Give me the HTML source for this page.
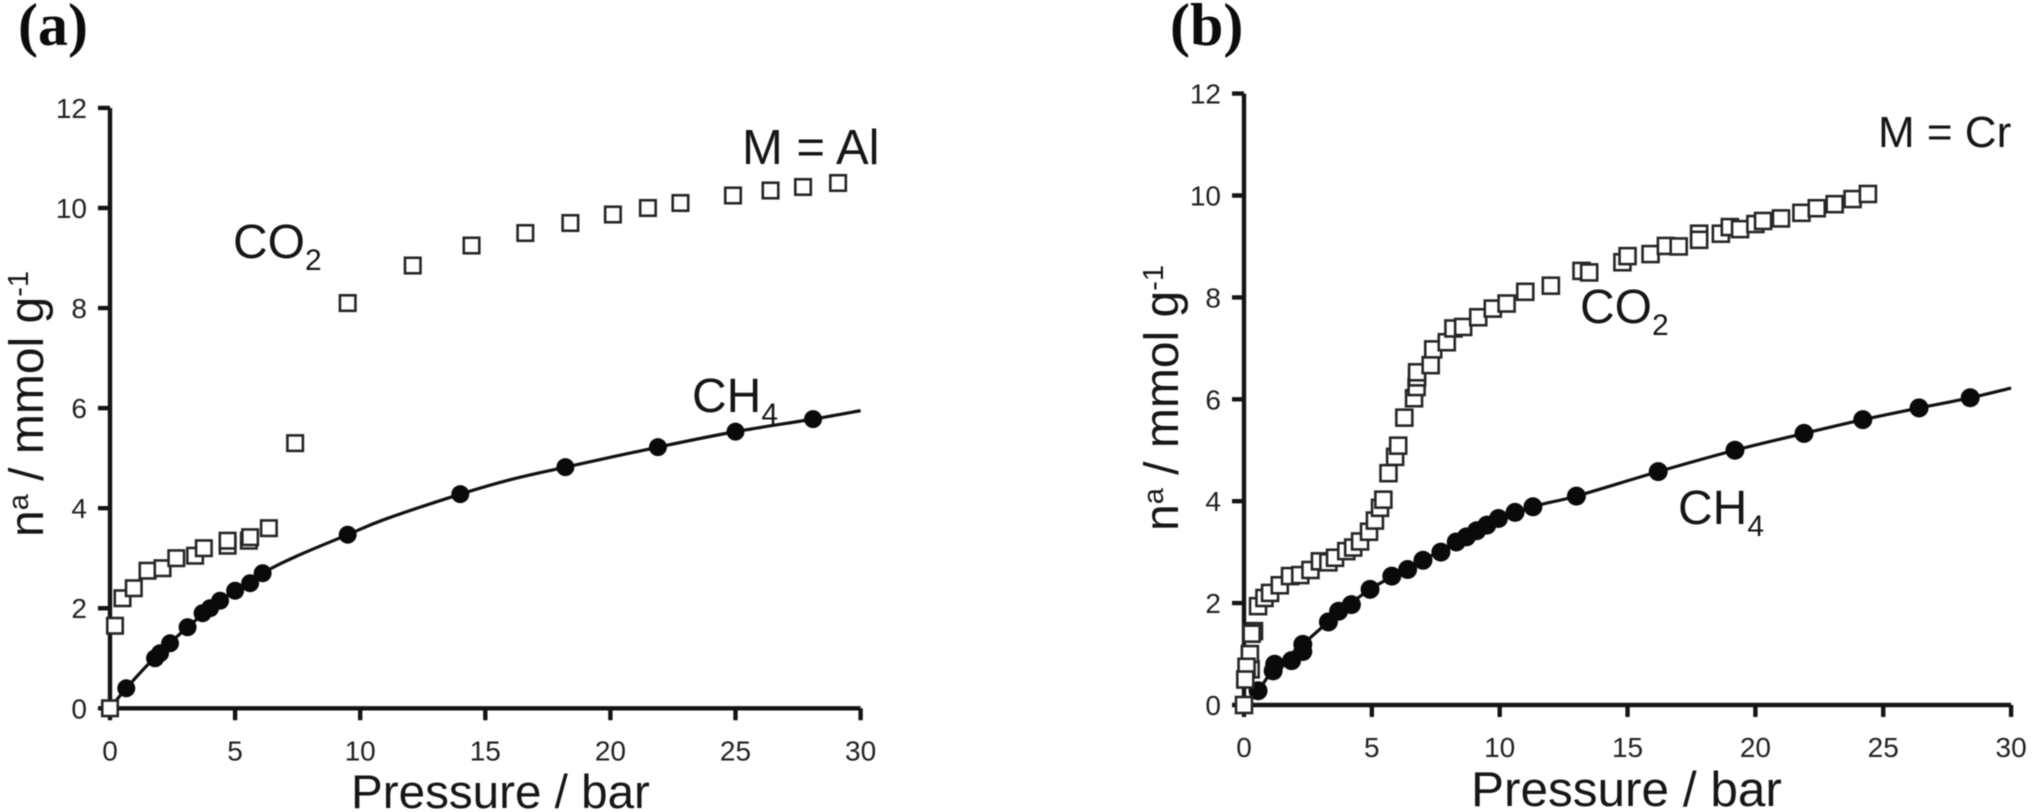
<!DOCTYPE html>
<html>
<head>
<meta charset="utf-8">
<title>CO2 and CH4 adsorption isotherms</title>
<style>
html,body{margin:0;padding:0;background:#fff;width:2042px;height:812px;overflow:hidden}
svg{display:block;filter:blur(0.6px)}
text{font-family:"Liberation Sans",sans-serif;fill:#161616}
.panel{font-family:"Liberation Serif",serif;font-weight:bold;font-size:60px;fill:#0c0c0c}
.big{font-size:48px}
.sub{font-size:30px}
.tick{font-size:28px;fill:#222}
</style>
</head>
<body>
<svg id="chart" width="2042" height="812" viewBox="0 0 2042 812" xmlns="http://www.w3.org/2000/svg">
  <text class="panel" x="18" y="45">(a)</text>
  <text class="panel" x="1170" y="45">(b)</text>

  <text class="big" x="742" y="164" style="font-size:49px">M = Al</text>
  <text class="big" x="1878" y="147" style="font-size:44px">M = Cr</text>

  <text class="big" x="233" y="258">CO<tspan class="sub" dy="12">2</tspan></text>
  <text class="big" x="692" y="412">CH<tspan class="sub" dy="12">4</tspan></text>
  <text class="big" x="1580" y="323">CO<tspan class="sub" dy="12">2</tspan></text>
  <text class="big" x="1678" y="524">CH<tspan class="sub" dy="12">4</tspan></text>

  <text class="big" x="351" y="808" style="font-size:47.6px">Pressure / bar</text>
  <text class="big" x="1471" y="806" style="font-size:49.5px">Pressure / bar</text>

  <text class="big" transform="translate(43,537) rotate(-90)">n<tspan font-size="29" dy="-15">a</tspan><tspan dy="15"> / mmol g</tspan><tspan font-size="29" dy="-15">-1</tspan></text>
  <text class="big" transform="translate(1178,531) rotate(-90)">n<tspan font-size="29" dy="-15">a</tspan><tspan dy="15"> / mmol g</tspan><tspan font-size="29" dy="-15">-1</tspan></text>
</svg>
<script>
var xTickLabels = [0, 5, 10, 15, 20, 25, 30];
var yTickLabels = [0, 2, 4, 6, 8, 10, 12];

var aCo2Pressure = [0.2,0.5,0.95,1.5,2.1,2.65,3.4,3.75,4.7,4.7,5.55,5.6,6.35,7.4,9.5,12.1,14.45,16.6,18.4,20.1,21.5,22.8,24.9,26.4,27.7,29.1,0];
var aCo2Uptake = [1.65,2.2,2.4,2.75,2.8,3.0,3.05,3.2,3.25,3.35,3.35,3.42,3.6,5.3,8.1,8.85,9.25,9.5,9.7,9.87,10.0,10.1,10.25,10.35,10.42,10.5,0];
var aCh4Pressure = [0.65,1.8,2.0,2.4,3.1,3.7,4.0,4.4,5.0,5.6,6.1,9.5,14.0,18.2,21.9,25.0,28.1];
var aCh4Uptake = [0.4,1.0,1.1,1.3,1.62,1.9,2.0,2.15,2.35,2.5,2.7,3.47,4.28,4.82,5.22,5.53,5.78];
var aFitPressure = [0,0.65,1.8,3.1,4.4,6.1,7.5,9.5,11,14,16,18.2,21.9,25,28.1,30];
var aFitUptake = [0,0.4,1.02,1.62,2.15,2.7,3.05,3.47,3.78,4.28,4.57,4.82,5.22,5.53,5.78,5.95];

var bCo2Pressure = [0.26,0.23,0.39,0.3,0.55,0.8,1.02,1.4,1.8,2.2,2.6,2.97,3.3,3.56,4.0,4.27,4.54,4.89,5.12,5.32,5.45,5.65,5.91,6.03,6.27,6.65,6.75,6.77,6.77,7.3,7.4,7.93,8.19,8.57,9.16,9.73,10.27,11.0,12.0,13.2,13.5,14.8,15.0,15.9,16.5,17.0,17.8,17.8,18.65,19.0,19.4,20.0,20.3,21.0,21.8,22.4,23.1,23.8,24.4,0.1,0.05,0];
var bCo2Uptake = [0.7,1.0,1.45,1.4,1.94,2.1,2.2,2.35,2.53,2.55,2.65,2.82,2.8,2.89,3.02,3.09,3.21,3.4,3.62,3.87,4.03,4.55,4.87,5.09,5.64,6.02,6.24,6.43,6.53,6.67,6.98,7.12,7.39,7.42,7.61,7.78,7.88,8.11,8.23,8.52,8.49,8.69,8.81,8.85,9.01,9.0,9.25,9.13,9.25,9.38,9.34,9.44,9.5,9.55,9.66,9.75,9.83,9.93,10.03,0.75,0.5,0];
var bCh4Pressure = [0.55,1.14,1.2,1.86,2.3,2.3,3.3,3.7,4.2,4.93,5.78,6.4,7,7.7,8.3,8.7,9.1,9.5,9.95,10.6,11.3,13,16.2,19.2,21.9,24.2,26.4,28.4];
var bCh4Uptake = [0.28,0.67,0.8,0.87,1.19,1.05,1.63,1.84,1.97,2.27,2.53,2.66,2.84,3.0,3.2,3.3,3.42,3.53,3.66,3.78,3.89,4.1,4.58,5.0,5.33,5.6,5.83,6.03];
var bFitPressure = [0,0.55,1.2,2.3,3.3,4.93,7,9.5,11.3,13,16.2,19.2,21.9,24.2,26.4,28.4,30];
var bFitUptake = [0,0.28,0.72,1.19,1.63,2.27,2.84,3.53,3.89,4.1,4.58,5.0,5.33,5.6,5.83,6.03,6.22];

var svgNs = 'http://www.w3.org/2000/svg';
var root = document.getElementById('chart');

function smoothPath(xs, ys) {
  var d = 'M' + xs[0] + ' ' + ys[0];
  for (var i = 0; i < xs.length - 1; i++) {
    var a = Math.max(i - 1, 0), c = i + 1, e = Math.min(i + 2, xs.length - 1);
    d += 'C' + (xs[i] + (xs[c] - xs[a]) / 6) + ' ' + (ys[i] + (ys[c] - ys[a]) / 6) + ' ' +
         (xs[c] - (xs[e] - xs[i]) / 6) + ' ' + (ys[c] - (ys[e] - ys[i]) / 6) + ' ' +
         xs[c] + ' ' + ys[c];
  }
  return d;
}

function drawPanel(id, geom, co2P, co2V, ch4P, ch4V, fitP, fitV) {
  function xAt(p) { return geom.x0 + p * geom.xScale; }
  function yAt(v) { return geom.y0 - v * geom.yScale; }

  var g = document.createElementNS(svgNs, 'g');
  
  
  root.appendChild(g);

  var axes = document.createElementNS(svgNs, 'path');
  var d = 'M' + xAt(0) + ' ' + yAt(12) + 'V' + yAt(0) + 'H' + xAt(30);
  yTickLabels.forEach(function (t) { d += 'M' + (xAt(0) - 12) + ' ' + yAt(t) + 'H' + xAt(0); });
  xTickLabels.forEach(function (t) { d += 'M' + xAt(t) + ' ' + yAt(0) + 'v12'; });
  axes.setAttribute('d', d);
  axes.setAttribute('fill', 'none');
  axes.setAttribute('stroke', '#141414');
  axes.setAttribute('stroke-width', '4.4');
  
  
  g.appendChild(axes);

  yTickLabels.forEach(function (t) {
    var el = document.createElementNS(svgNs, 'text');
    el.setAttribute('class', 'tick');
    el.setAttribute('text-anchor', 'end');
    el.setAttribute('x', xAt(0) - 23);
    el.setAttribute('y', yAt(t) + 10);
    el.textContent = t;
    
    
    g.appendChild(el);
  });
  xTickLabels.forEach(function (t) {
    var el = document.createElementNS(svgNs, 'text');
    el.setAttribute('class', 'tick');
    el.setAttribute('text-anchor', 'middle');
    el.setAttribute('x', xAt(t));
    el.setAttribute('y', yAt(0) + 52);
    el.textContent = t;
    
    
    g.appendChild(el);
  });

  var fit = document.createElementNS(svgNs, 'path');
  fit.setAttribute('d', smoothPath(fitP.map(xAt), fitV.map(yAt)));
  fit.setAttribute('fill', 'none');
  fit.setAttribute('stroke', '#111');
  fit.setAttribute('stroke-width', '3.2');
  
  
  g.appendChild(fit);

  ch4P.forEach(function (p, i) {
    var c = document.createElementNS(svgNs, 'circle');
    c.setAttribute('cx', xAt(p));
    c.setAttribute('cy', yAt(ch4V[i]));
    c.setAttribute('r', geom.circleR);
    c.setAttribute('fill', '#0a0a0a');
    
    
    g.appendChild(c);
  });

  co2P.forEach(function (p, i) {
    var r = document.createElementNS(svgNs, 'rect');
    r.setAttribute('x', xAt(p) - geom.square / 2);
    r.setAttribute('y', yAt(co2V[i]) - geom.square / 2);
    r.setAttribute('width', geom.square);
    r.setAttribute('height', geom.square);
    r.setAttribute('fill', '#fff');
    r.setAttribute('stroke', '#262626');
    r.setAttribute('stroke-width', '2.6');
    
    
    g.appendChild(r);
  });
}

drawPanel('panel-a', {x0: 110, y0: 708.3, xScale: 25.02, yScale: 50.03, circleR: 9, square: 15.5},
  aCo2Pressure, aCo2Uptake, aCh4Pressure, aCh4Uptake, aFitPressure, aFitUptake);
drawPanel('panel-b', {x0: 1244, y0: 705, xScale: 25.57, yScale: 50.95, circleR: 9.5, square: 16},
  bCo2Pressure, bCo2Uptake, bCh4Pressure, bCh4Uptake, bFitPressure, bFitUptake);
</script>
</body>
</html>
